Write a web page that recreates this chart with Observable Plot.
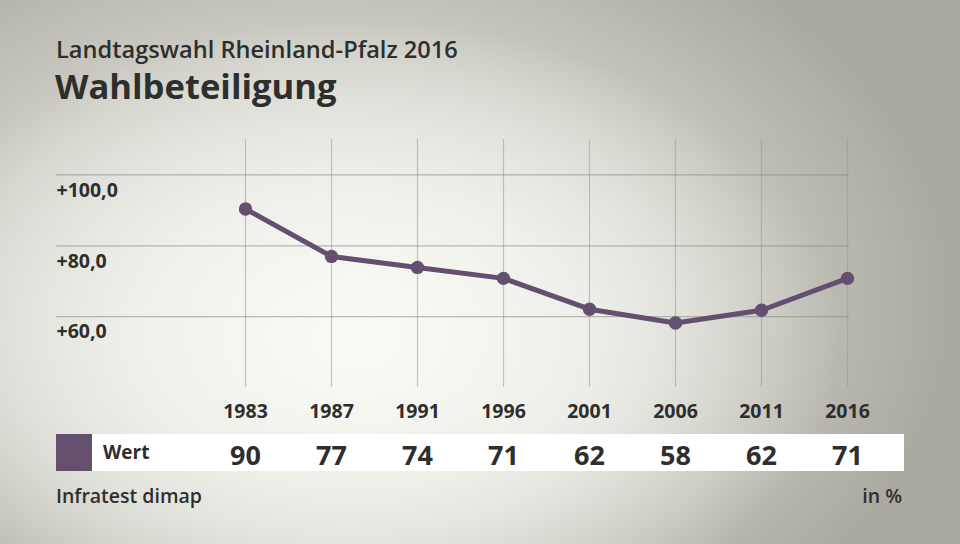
<!DOCTYPE html>
<html>
<head>
<meta charset="utf-8">
<script src="https://cdn.jsdelivr.net/npm/d3@7"></script>
<script src="https://cdn.jsdelivr.net/npm/@observablehq/plot@0.6"></script>
<style>
  html, body { margin: 0; padding: 0; }
  body { width: 960px; height: 544px; overflow: hidden; }
  #chart {
    position: relative; width: 960px; height: 544px; overflow: hidden;
    font-family: "Open Sans", sans-serif; color: #2e2e2c;
    background:
      radial-gradient(ellipse 480px 320px at 360px 340px, rgba(250,250,246,1) 0%, rgba(244,244,239,0.85) 45%, rgba(244,244,239,0) 100%),
      radial-gradient(ellipse 630px 430px at 320px 300px, #ebebe5 0%, #d0d0c9 55%, #aaaaa1 100%),
      #a8a8a0;
  }
  .abs { position: absolute; white-space: nowrap; line-height: normal; }
  #sub { left: 56px; top: 33px; font-size: 23.6px; font-weight: 600; }
  #title { left: 55px; top: 62px; font-size: 34.6px; font-weight: 700; }
  #band { left: 92px; top: 434px; width: 812px; height: 37px; background: #ffffff; }
  #swatch { left: 56px; top: 434px; width: 36px; height: 37px; background: #644f6e; }
  #wert { left: 103px; top: 439px; font-size: 19px; font-weight: 700; }
  #source { left: 56px; top: 482px; font-size: 19.5px; font-weight: 600; }
  #unit { right: 58px; top: 482px; font-size: 19.5px; font-weight: 600; }
  #plot { position: absolute; left: 0; top: 0; }
</style>
</head>
<body>
<div id="chart">
  <div class="abs" id="sub">Landtagswahl Rheinland-Pfalz 2016</div>
  <div class="abs" id="title">Wahlbeteiligung</div>
  <div class="abs" id="band"></div>
  <div class="abs" id="swatch"></div>
  <div class="abs" id="wert">Wert</div>
  <div class="abs" id="source">Infratest dimap</div>
  <div class="abs" id="unit">in %</div>
  <div id="plot"></div>
</div>
<script>
const years = ["1983", "1987", "1991", "1996", "2001", "2006", "2011", "2016"];
const turnout = [90.4, 77.0, 73.9, 70.8, 62.1, 58.2, 61.8, 70.8];
const tableLabels = ["90", "77", "74", "71", "62", "58", "62", "71"];
const yTicks = [60, 80, 100];

const data = years.map((year, i) => ({year, value: turnout[i], label: tableLabels[i]}));
const fmt = d => "+" + d.toFixed(1).replace(".", ",");
const purple = "#644f6e";
const font = "'Open Sans', sans-serif";

const chart = Plot.plot({
  width: 960,
  height: 544,
  marginLeft: 56,
  marginRight: 111,
  marginTop: 139,
  marginBottom: 157,
  style: {background: "transparent", fontFamily: font, color: "#2e2e2c", overflow: "visible"},
  x: {type: "point", domain: years, range: [242, 849], padding: 0, axis: null},
  y: {domain: [40, 110], range: [387, 139], axis: null},
  marks: [
    Plot.ruleX(years, {x: d => d, stroke: "#9a9a94", strokeOpacity: 0.55, strokeWidth: 1.2}),
    Plot.ruleY(yTicks, {y: d => d, stroke: "#8e8e88", strokeOpacity: 0.6, strokeWidth: 1.2}),
    Plot.text(yTicks, {y: d => d, frameAnchor: "left", lineAnchor: "middle", text: fmt, dy: 15.5, textAnchor: "start",
      fontWeight: 700, fontSize: 19.5, fill: "#2e2e2c"}),
    Plot.line(data, {x: "year", y: "value", stroke: purple, strokeWidth: 5, strokeLinejoin: "round"}),
    Plot.dot(data, {x: "year", y: "value", r: 6.7, fill: purple, stroke: "none"}),
    Plot.text(years, {x: d => d, frameAnchor: "bottom", lineAnchor: "middle", dy: 24, text: d => d,
      fontWeight: 700, fontSize: 19.5, fill: "#2e2e2c"}),
    Plot.text(data, {x: "year", frameAnchor: "bottom", lineAnchor: "middle", dy: 69, text: "label",
      fontWeight: 700, fontSize: 27, fill: "#2e2e2c"})
  ]
});
document.getElementById("plot").appendChild(chart);
</script>
</body>
</html>
